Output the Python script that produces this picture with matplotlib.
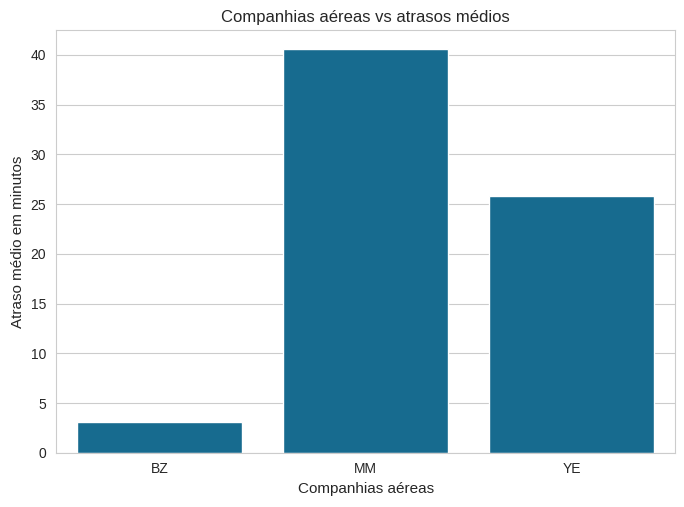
import matplotlib
matplotlib.use('Agg')
import matplotlib.pyplot as plt
import seaborn as sns

sns.set_style('whitegrid')
plt.rcParams['font.family'] = ['Liberation Sans', 'DejaVu Sans']

companhias = ['BZ', 'MM', 'YE']
atrasos = [3.05, 40.55, 25.8]

fig = plt.figure(figsize=(6.84, 5.07), dpi=100)
ax = fig.add_axes([0.082, 0.107, 0.905, 0.834])
ax.bar(companhias, atrasos, width=0.8, color='#176b8f')
ax.set_xlim(-0.5, 2.5)
ax.set_ylim(0, 42.5)
ax.set_title('Companhias aéreas vs atrasos médios', fontsize=12, color='#262626')
ax.set_xlabel('Companhias aéreas', fontsize=11, color='#262626')
ax.set_ylabel('Atraso médio em minutos', fontsize=11, color='#262626')
ax.tick_params(labelsize=10, colors='#262626')
ax.xaxis.grid(False)
for s in ax.spines.values():
    s.set_color('#cccccc')
fig.savefig('out.png', dpi=100)
